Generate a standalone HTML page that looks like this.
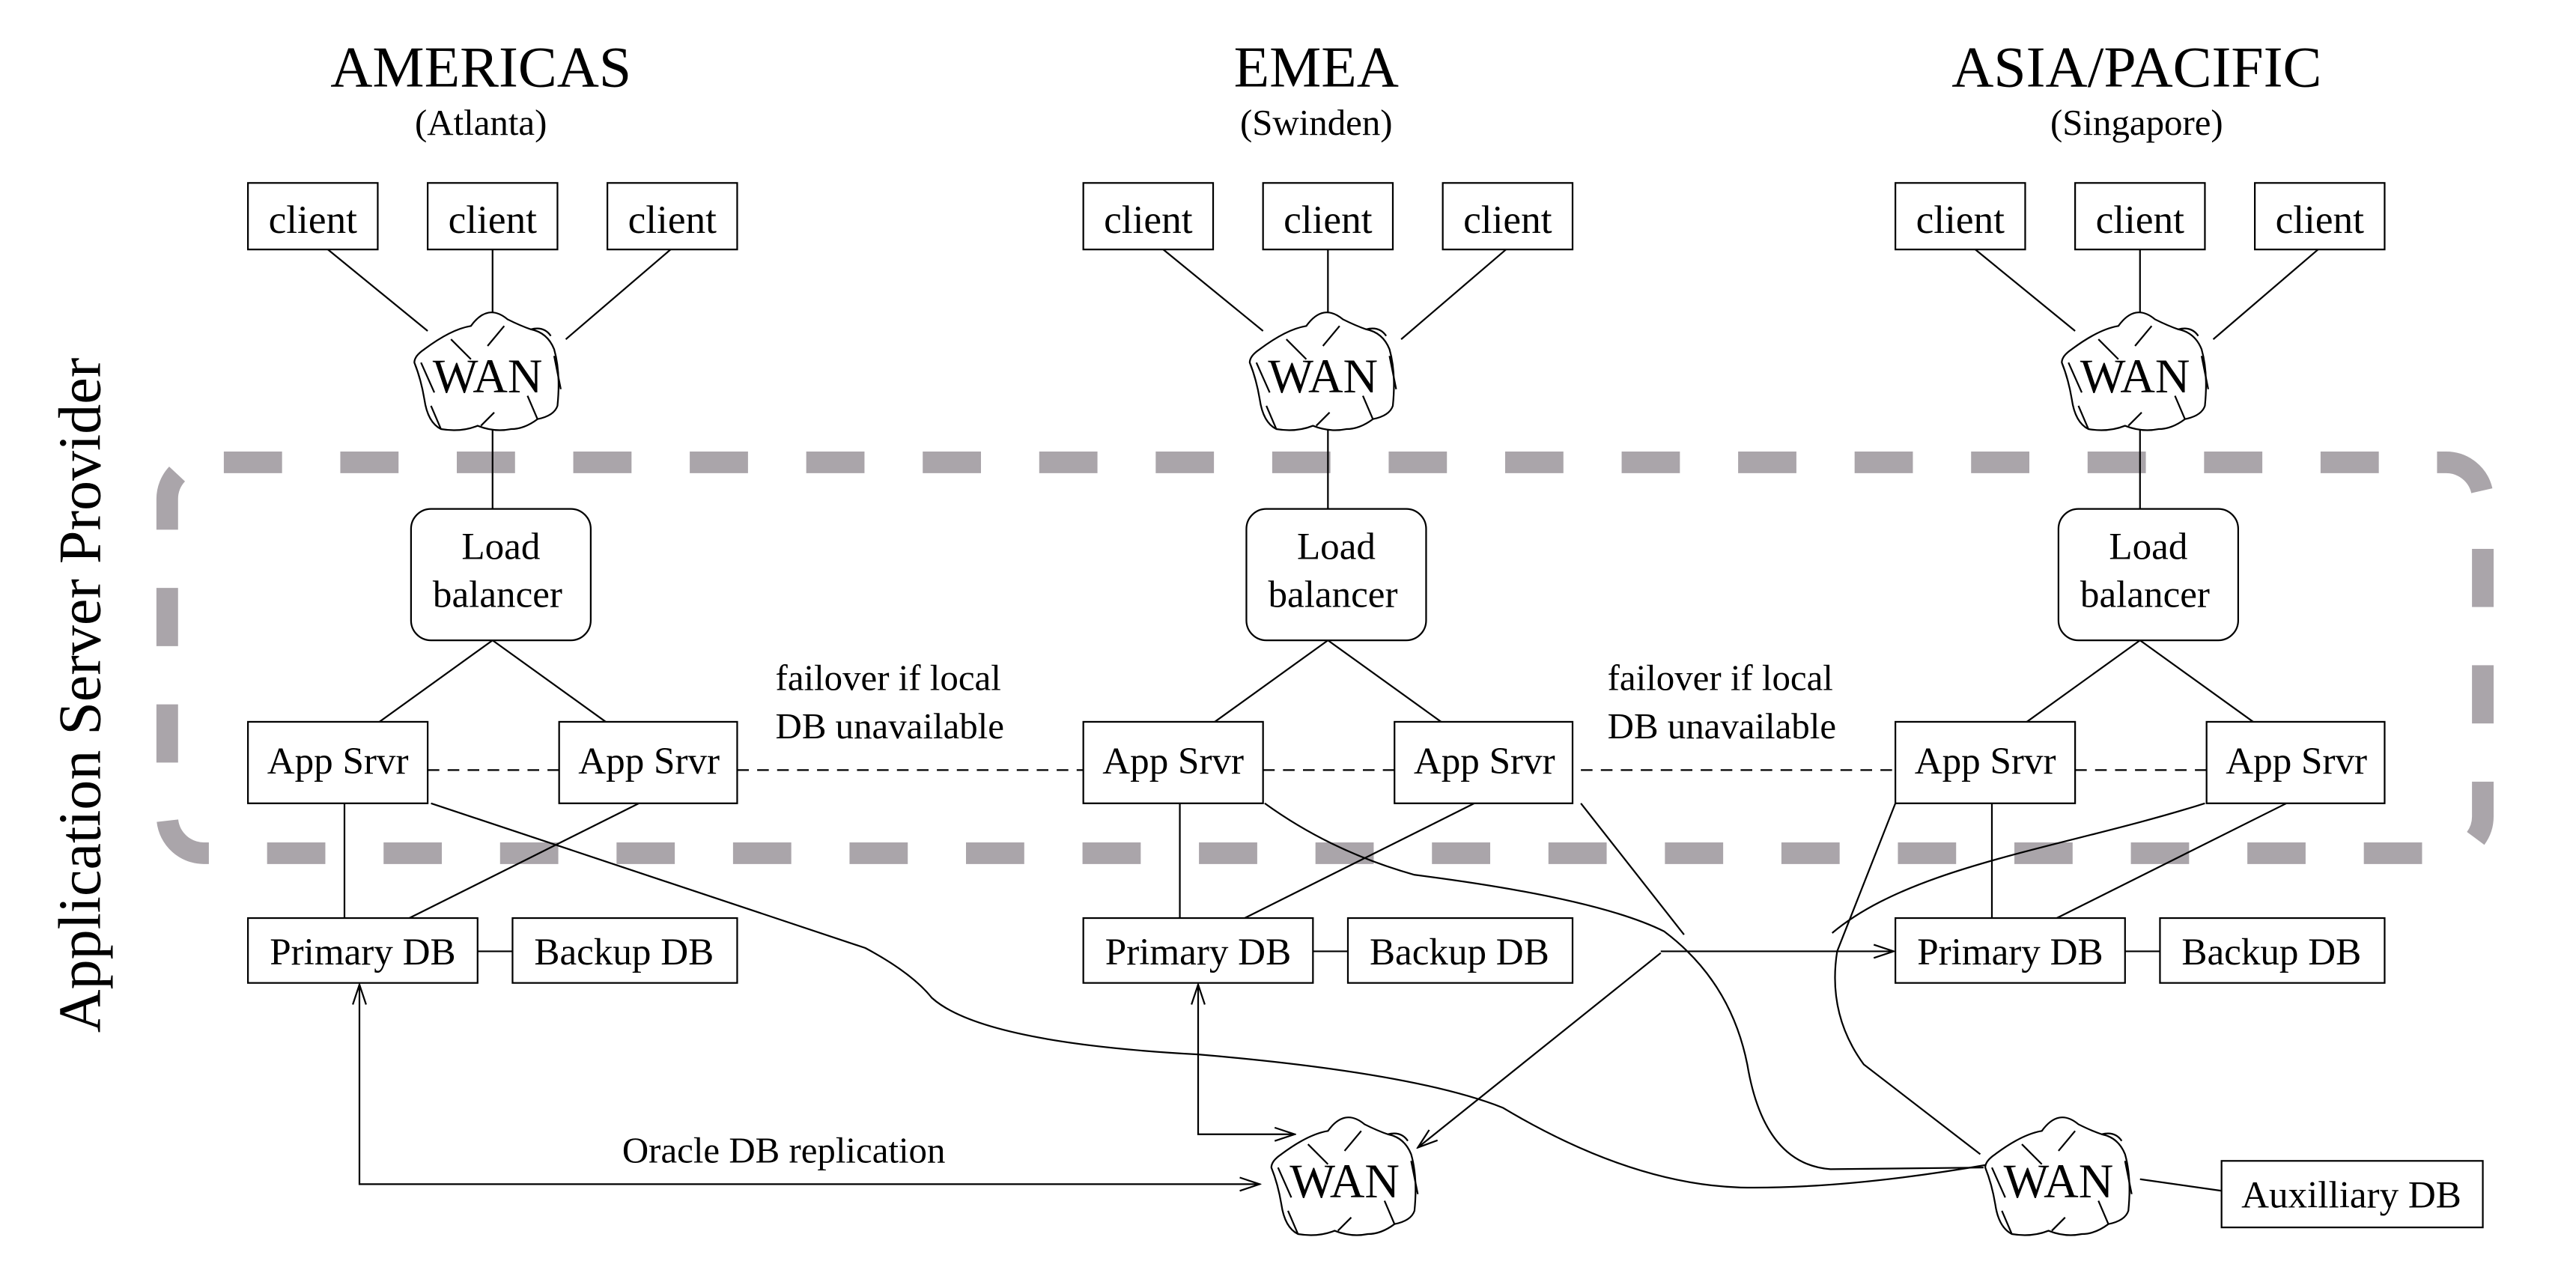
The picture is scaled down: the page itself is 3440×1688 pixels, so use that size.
<!DOCTYPE html>
<html><head><meta charset="utf-8"><style>
html,body{margin:0;padding:0;background:#fff;}
svg{display:block;}
</style></head><body>
<svg width="3440" height="1688" viewBox="0 0 1548 760" preserveAspectRatio="none" xmlns="http://www.w3.org/2000/svg" font-family="'Liberation Serif', 'DejaVu Serif', serif">
<defs>
<marker id="ar" markerWidth="14" markerHeight="10" refX="13" refY="5" orient="auto" markerUnits="userSpaceOnUse">
<path d="M1,1 L13,5 L1,9" fill="none" stroke="#000" stroke-width="1"/>
</marker>
<marker id="ars" markerWidth="14" markerHeight="10" refX="13" refY="5" orient="auto-start-reverse" markerUnits="userSpaceOnUse">
<path d="M1,1 L13,5 L1,9" fill="none" stroke="#000" stroke-width="1"/>
</marker>
<g id="cloud" fill="#fff" stroke="#000" stroke-width="1">
<path d="M-38,-14 Q-22,-26 -10,-28 Q0,-42 12,-32 Q20,-28 26,-26 Q36,-24 40,-14 Q44,0 42,20 Q40,26 30,28 Q22,34 14,34 Q4,36 -6,32 Q-16,36 -28,34 Q-36,30 -38,16 Q-40,4 -44,-6 Q-44,-10 -38,-14 Z"/>
<path d="M-22,-20 L-10,-8 M10,-28 L0,-16 M26,-26 Q34,-28 38,-22 M40,-10 L44,10 M30,28 L24,14 M-4,32 L4,24 M-28,34 L-34,20 M-40,-6 L-32,12" fill="none"/>
</g>
</defs>

<rect x="100.5" y="278" width="1391.5" height="235" rx="22" ry="22" fill="none" stroke="#aaa5aa" stroke-width="13" stroke-dasharray="35 35" stroke-dashoffset="-12"/>

<text x="48" y="418" font-size="36" text-anchor="middle" transform="rotate(-90 48 418)" dy="12" font-family="'Liberation Serif', serif">Application Server Provider</text>

<g id="region" fill="#fff" stroke="#000" stroke-width="1">
<line x1="197" y1="150" x2="257" y2="199"/>
<line x1="296" y1="150" x2="296" y2="190"/>
<line x1="403" y1="150" x2="340" y2="204"/>
<line x1="296" y1="258" x2="296" y2="306"/>
<line x1="296" y1="385" x2="228" y2="434"/>
<line x1="296" y1="385" x2="364" y2="434"/>
<line x1="207" y1="483" x2="207" y2="552"/>
<line x1="384" y1="483" x2="246" y2="552"/>
<line x1="287" y1="572" x2="308" y2="572"/>
<line x1="257" y1="463" x2="336" y2="463" stroke-dasharray="7 5"/>
<rect x="149" y="110" width="78" height="40"/>
<rect x="257" y="110" width="78" height="40"/>
<rect x="365" y="110" width="78" height="40"/>
<use href="#cloud" x="293" y="224"/>
<rect x="247" y="306" width="108" height="79" rx="12" ry="12"/>
<rect x="149" y="434" width="108" height="49"/>
<rect x="336" y="434" width="107" height="49"/>
<rect x="149" y="552" width="138" height="39"/>
<rect x="308" y="552" width="135" height="39"/>
<g stroke="none" fill="#000" font-family="'Liberation Serif', serif">
<text x="188" y="140" font-size="24" text-anchor="middle">client</text>
<text x="296" y="140" font-size="24" text-anchor="middle">client</text>
<text x="404" y="140" font-size="24" text-anchor="middle">client</text>
<text x="293" y="236" font-size="29" text-anchor="middle">WAN</text>
<text x="301" y="336" font-size="23" text-anchor="middle">Load</text>
<text x="299" y="365" font-size="23" text-anchor="middle">balancer</text>
<text x="203" y="465" font-size="23" text-anchor="middle">App Srvr</text>
<text x="390" y="465" font-size="23" text-anchor="middle">App Srvr</text>
<text x="218" y="580" font-size="23" text-anchor="middle">Primary DB</text>
<text x="375" y="580" font-size="23" text-anchor="middle">Backup DB</text>
</g>
</g>
<g transform="translate(502,0)"><use href="#region"/></g>
<g transform="translate(990,0)"><use href="#region"/></g>

<g font-family="'Liberation Serif', serif" fill="#000">
<text x="289" y="52" font-size="35" text-anchor="middle">AMERICAS</text>
<text x="289" y="81" font-size="22" text-anchor="middle">(Atlanta)</text>
<text x="791" y="52" font-size="35" text-anchor="middle">EMEA</text>
<text x="791" y="81" font-size="22" text-anchor="middle">(Swinden)</text>
<text x="1284" y="52" font-size="35" text-anchor="middle">ASIA/PACIFIC</text>
<text x="1284" y="81" font-size="22" text-anchor="middle">(Singapore)</text>
<text x="466" y="415" font-size="22">failover if local</text>
<text x="466" y="444" font-size="22">DB unavailable</text>
<text x="966" y="415" font-size="22">failover if local</text>
<text x="966" y="444" font-size="22">DB unavailable</text>
<text x="471" y="699" font-size="22" text-anchor="middle">Oracle DB replication</text>
</g>

<g stroke="#000" stroke-width="1" stroke-dasharray="7 5">
<line x1="443" y1="463" x2="651" y2="463"/>
<line x1="950" y1="463" x2="1139" y2="463"/>
</g>

<g fill="none" stroke="#000" stroke-width="1">
<path d="M259,483 L520,570 Q548,585 560,600 Q590,627 720,634 Q850,645 903,666 Q980,712 1046,714 Q1110,715 1196,700"/>
<path d="M760,483 Q800,512 850,526 Q960,540 1000,560 Q1040,590 1050,640 Q1060,700 1100,703 L1192,702"/>
<path d="M950,483 L1012,562"/>
<path d="M1139,483 L1104,572 Q1098,610 1120,640 L1190,694"/>
<path d="M1325,483 C1240,510 1150,520 1101,561"/>
<path d="M998,573 L852,690" marker-end="url(#ar)"/>
<path d="M998,572 L1138,572" marker-end="url(#ar)"/>
<path d="M216,592 L216,712 L757,712" marker-start="url(#ars)" marker-end="url(#ar)"/>
<path d="M720,592 L720,682 L778,682" marker-start="url(#ars)" marker-end="url(#ar)"/>
<line x1="1286" y1="709" x2="1335" y2="716"/>
</g>
<use href="#cloud" x="808" y="708"/>
<use href="#cloud" x="1237" y="708"/>
<g font-family="'Liberation Serif', serif" fill="#000">
<text x="808" y="720" font-size="29" text-anchor="middle">WAN</text>
<text x="1237" y="720" font-size="29" text-anchor="middle">WAN</text>
</g>
<rect x="1335" y="698" width="157" height="40" fill="#fff" stroke="#000" stroke-width="1"/>
<text x="1413" y="726" font-size="23" text-anchor="middle" font-family="'Liberation Serif', serif">Auxilliary DB</text>
</svg>
</body></html>
